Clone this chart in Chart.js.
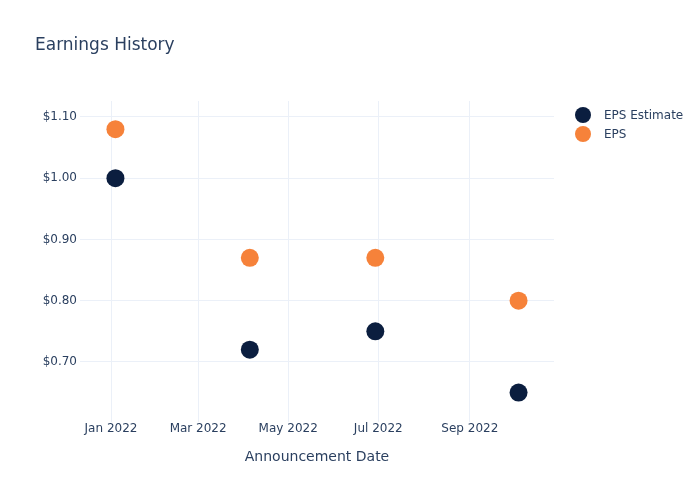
<!DOCTYPE html>
<html>
<head>
<meta charset="utf-8">
<script src="https://cdn.jsdelivr.net/npm/chart.js@4.4.1/dist/chart.umd.min.js"></script>
<style>
  html, body { margin: 0; padding: 0; background: #fff; }
  #wrap { position: relative; width: 700px; height: 500px; font-family: "DejaVu Sans", sans-serif; color: #2a3f5f; }
  #title { position: absolute; left: 35px; top: 36px; font-size: 17px; line-height: 1; }
  #legend { position: absolute; left: 575px; top: 105px; font-size: 12px; }
  .item { display: flex; align-items: center; height: 19px; }
  .dot { width: 16px; height: 16px; border-radius: 50%; margin-right: 13px; }
  canvas { position: absolute; left: 0; top: 0; }
</style>
</head>
<body>
<div id="wrap">
  <canvas id="c" width="700" height="500"></canvas>
  <div id="title">Earnings History</div>
  <div id="legend"></div>
</div>
<script>
const announceDates = ["2022-01-04", "2022-04-05", "2022-06-29", "2022-10-04"];
const epsEstimate = [1.00, 0.72, 0.75, 0.65];
const epsActual = [1.08, 0.87, 0.87, 0.80];
const seriesNames = ["EPS Estimate", "EPS"];
const seriesColors = ["#0b1e3f", "#f6823a"];
const xTickDates = ["2022-01-01", "2022-03-01", "2022-05-01", "2022-07-01", "2022-09-01"];
const xTickLabels = ["Jan 2022", "Mar 2022", "May 2022", "Jul 2022", "Sep 2022"];
const yTicks = [0.70, 0.80, 0.90, 1.00, 1.10];

const base = Date.UTC(2022, 0, 1);
const toDay = s => (Date.parse(s + "T00:00:00Z") - base) / 86400000;
const xTickDays = xTickDates.map(toDay);

const legend = document.getElementById("legend");
seriesNames.forEach((n, i) => {
  const d = document.createElement("div");
  d.className = "item";
  d.innerHTML = '<span class="dot" style="background:' + seriesColors[i] + '"></span><span>' + n + '</span>';
  legend.appendChild(d);
});

const grid = "#ebf0f8";
const fam = "DejaVu Sans";
new Chart(document.getElementById("c"), {
  type: "scatter",
  data: {
    datasets: [
      { label: seriesNames[0], data: announceDates.map((d, i) => ({ x: toDay(d), y: epsEstimate[i] })),
        backgroundColor: seriesColors[0], borderWidth: 0, pointRadius: 9, pointHoverRadius: 9 },
      { label: seriesNames[1], data: announceDates.map((d, i) => ({ x: toDay(d), y: epsActual[i] })),
        backgroundColor: seriesColors[1], borderWidth: 0, pointRadius: 9, pointHoverRadius: 9 }
    ]
  },
  options: {
    responsive: false,
    animation: false,
    layout: { padding: { left: 0, right: 146, top: 101, bottom: 0 } },
    plugins: { legend: { display: false }, title: { display: false }, tooltip: { enabled: false } },
    scales: {
      x: {
        type: "linear", min: -21, max: 300,
        grid: { color: grid, drawTicks: false, lineWidth: 1 },
        border: { display: false },
        afterBuildTicks: s => { s.ticks = xTickDays.map(v => ({ value: v })); },
        afterFit: s => { s.height = 78; },
        ticks: { padding: 0, color: "#2a3f5f", font: { family: fam, size: 12 }, maxRotation: 0,
          callback: (v) => { const i = xTickDays.indexOf(v); return i >= 0 ? xTickLabels[i] : ""; } },
        title: { display: true, text: "Announcement Date", color: "#2a3f5f",
          font: { family: fam, size: 14 }, padding: { top: 0, bottom: 34 } }
      },
      y: {
        type: "linear", min: 0.602, max: 1.126,
        grid: { color: grid, drawTicks: false, lineWidth: 1 },
        border: { display: false },
        afterBuildTicks: s => { s.ticks = yTicks.map(v => ({ value: v })); },
        afterFit: s => { s.width = 80; },
        ticks: { padding: 3, color: "#2a3f5f", font: { family: fam, size: 12 },
          callback: v => "$" + v.toFixed(2) }
      }
    }
  }
});
</script>
</body>
</html>
